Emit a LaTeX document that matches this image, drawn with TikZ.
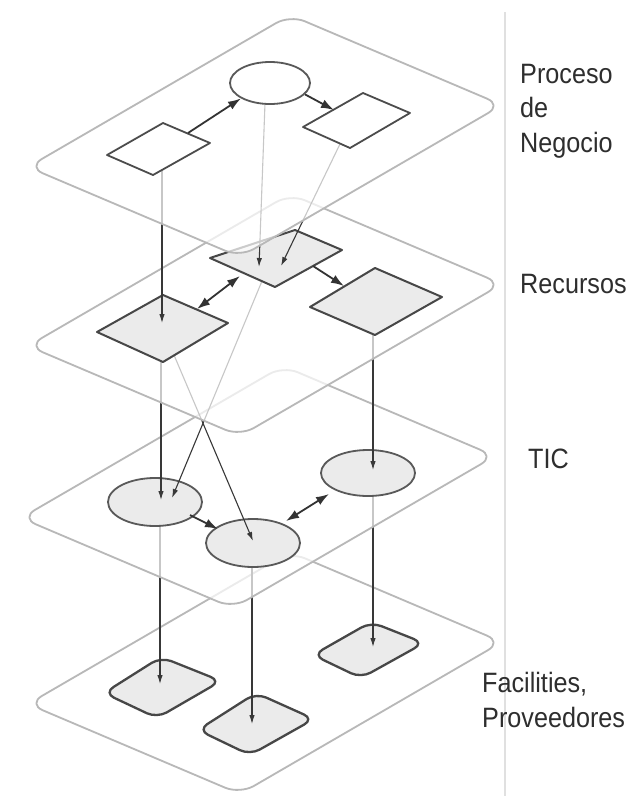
\documentclass[tikz,border=0pt]{standalone}
\usepackage{fontspec}
\newfontfamily\lblfont[FakeStretch=0.9]{Liberation Sans}
\usetikzlibrary{arrows.meta,calc,shapes.geometric}
\tikzset{
 lplane/.style={draw=black!28, line width=1.8pt, fill=white, fill opacity=0.72, rounded corners=16pt, line join=round},
 wbox/.style={draw=black!70, line width=1.8pt, fill=white, line join=round},
 gbox/.style={draw=black!72, line width=2pt, fill=black!8, line join=round},
 softbox/.style={draw=black!72, line width=2.3pt, fill=black!8, rounded corners=11pt},
 ellnode/.style={ellipse, draw=black!65, line width=1.8pt, fill=black!8, inner sep=0pt, minimum width=94pt, minimum height=48pt},
 vlink/.style={draw=black!78, line width=1.1pt, -{Latex[length=9pt,width=5.5pt]}},
 hlink/.style={draw=black!80, line width=1.8pt, -{Latex[length=13pt,width=9pt]}},
 dlink/.style={draw=black!80, line width=1.8pt, {Latex[length=13pt,width=9pt]}-{Latex[length=13pt,width=9pt]}},
 lbl/.style={anchor=base west, align=left, text=black!82, inner sep=0pt, font=\lblfont\fontsize{28}{34.5}\selectfont},
 sepline/.style={draw=black!12, line width=2pt},
}
\newcommand{\quadshape}[2]{%
 \path[#2] (#1-l) -- (#1-t) -- (#1-r) -- (#1-b) -- cycle;}
\begin{document}
\begin{tikzpicture}[x=1pt,y=-1pt]
\useasboundingbox (0,0) rectangle (633,796);
\fill[white] (0,0) rectangle (633,796);

% separator
\coordinate (s1) at (505,12);
\coordinate (s2) at (505,796);
\draw[sepline] (s1) -- (s2);

% ---------- plane 4 ----------
\path[lplane, shift={(0,537)}] (28,167) -- (290,15) -- (502,105) -- (240,257) -- cycle;
\coordinate (I-l) at (104,693); \coordinate (I-t) at (161,657); \coordinate (I-r) at (221,681); \coordinate (I-b) at (157,718);
\coordinate (J-l) at (198,730); \coordinate (J-t) at (256,693); \coordinate (J-r) at (314,719); \coordinate (J-b) at (250,755);
\coordinate (K-l) at (313,655); \coordinate (K-t) at (371,622); \coordinate (K-r) at (424,643); \coordinate (K-b) at (361,678);
\quadshape{I}{softbox}
\quadshape{J}{softbox}
\quadshape{K}{softbox}
\coordinate (I-in) at (160,684);
\coordinate (J-in) at (252,724);
\coordinate (K-in) at (373,647);

% ---------- plane 3 ----------
\coordinate (F-out) at (160,526);
\coordinate (G-out) at (252,567);
\coordinate (H-out) at (373,496);
\draw[vlink] (F-out) -- (I-in);
\draw[vlink] (G-out) -- (J-in);
\draw[vlink] (H-out) -- (K-in);
\path[lplane, shift={(-7,351)}] (28,167) -- (290,15) -- (502,105) -- (240,257) -- cycle;
\node[ellnode] (F) at (155,502) {};
\node[ellnode] (G) at (253,543) {};
\node[ellnode, minimum height=46pt] (H) at (368,473) {};
\coordinate (fg1) at (190,515); \coordinate (fg2) at (218,529);
\draw[hlink] (fg1) -- (fg2);
\coordinate (gh1) at (286,521); \coordinate (gh2) at (329,494);
\draw[dlink] (gh1) -- (gh2);
\coordinate (F-in1) at (161,500);
\coordinate (F-in2) at (172,498);
\coordinate (G-in) at (253,541);
\coordinate (H-in) at (373,470);

% ---------- plane 2 ----------
\coordinate (C-l) at (210,258); \coordinate (C-t) at (295,230); \coordinate (C-r) at (342,250); \coordinate (C-b) at (275,287);
\coordinate (D-l) at (97,332); \coordinate (D-t) at (163,295); \coordinate (D-r) at (228,323); \coordinate (D-b) at (163,362);
\coordinate (E-l) at (310,307); \coordinate (E-t) at (375,268); \coordinate (E-r) at (442,297); \coordinate (E-b) at (375,335);
\coordinate (D-out1) at (161,361);
\coordinate (D-out2) at (174,355);
\coordinate (C-out) at (262,281);
\coordinate (E-out) at (373,334);
\draw[vlink] (D-out1) -- (F-in1);
\draw[vlink] (D-out2) -- (G-in);
\draw[vlink] (C-out) -- (F-in2);
\draw[vlink] (E-out) -- (H-in);
\path[lplane, shift={(0,179)}] (28,167) -- (290,15) -- (502,105) -- (240,257) -- cycle;
\quadshape{C}{gbox}
\quadshape{D}{gbox}
\quadshape{E}{gbox}
\coordinate (cd1) at (197,309); \coordinate (cd2) at (240,276);
\draw[dlink] (cd1) -- (cd2);
\coordinate (ce1) at (313,266); \coordinate (ce2) at (344,286);
\draw[hlink] (ce1) -- (ce2);
\coordinate (D-in) at (162,323);
\coordinate (C-in1) at (259,267);
\coordinate (C-in2) at (281,266);

% ---------- plane 1 ----------
\coordinate (A-l) at (107,155); \coordinate (A-t) at (163,123); \coordinate (A-r) at (210,143); \coordinate (A-b) at (153,175);
\coordinate (B-l) at (303,127); \coordinate (B-t) at (363,93); \coordinate (B-r) at (410,113); \coordinate (B-b) at (350,148);
\coordinate (A-out) at (162,170);
\coordinate (Ell-out) at (265,103);
\coordinate (B-out) at (340,144);
\draw[vlink] (A-out) -- (D-in);
\draw[vlink] (Ell-out) -- (C-in1);
\draw[vlink] (B-out) -- (C-in2);
\path[lplane] (28,167) -- (290,15) -- (502,105) -- (240,257) -- cycle;
\quadshape{A}{wbox}
\quadshape{B}{wbox}
\node[ellnode, fill=white, minimum width=80pt, minimum height=42pt] (Ell) at (270,83) {};
\coordinate (ae1) at (188,133);
\draw[hlink] (ae1) -- (Ell.208);
\coordinate (eb2) at (334,110);
\draw[hlink] (Ell.-18) -- (eb2);

% ---------- labels ----------
\node[lbl] (t1) at (520,152) {Proceso\\de\\Negocio};
\node[lbl] (t2) at (520,293) {Recursos};
\node[lbl] (t3) at (528,468) {TIC};
\node[lbl] (t4) at (482,727) {Facilities,\\Proveedores};
\end{tikzpicture}
\end{document}
